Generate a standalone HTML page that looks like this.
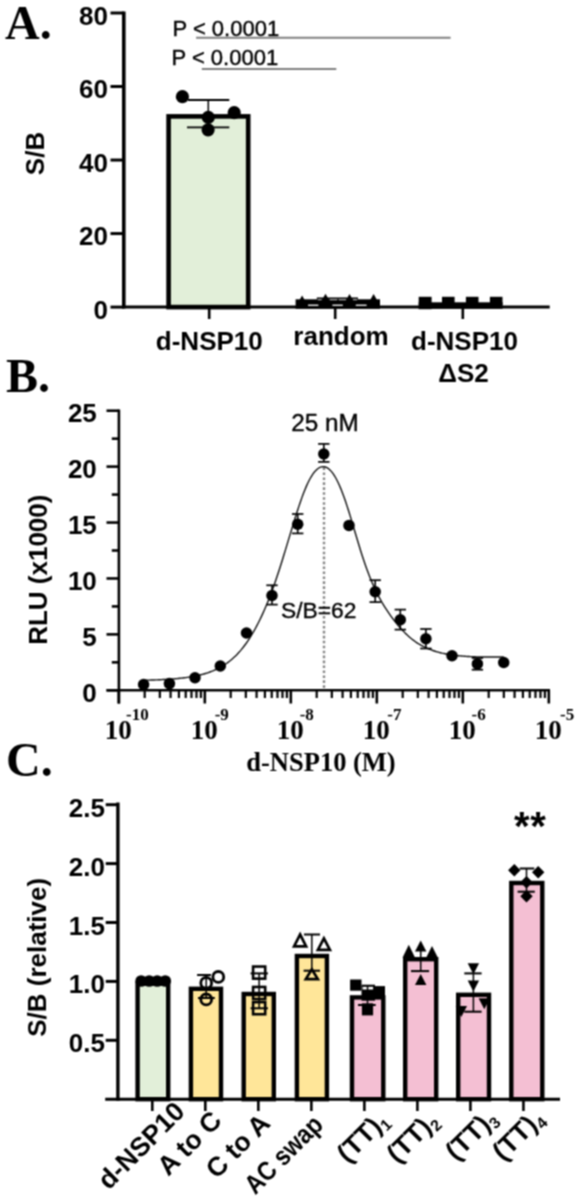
<!DOCTYPE html>
<html><head><meta charset="utf-8"><title>figure</title>
<style>html,body{margin:0;padding:0;background:#fff;overflow:hidden;}svg{display:block;}</style>
</head><body>
<svg width="578" height="1199" viewBox="0 0 578 1199">
<defs><filter id="soft" x="0" y="0" width="578" height="1199" filterUnits="userSpaceOnUse" color-interpolation-filters="sRGB"><feConvolveMatrix order="3" kernelMatrix="1 2 1 2 4 2 1 2 1" divisor="16" edgeMode="duplicate"/></filter></defs>
<g filter="url(#soft)">
<rect width="578" height="1199" fill="#fff"/>
<text x="5.00" y="39.00" font-family='"Liberation Serif", serif' font-size="48" font-weight="bold" text-anchor="start" fill="#000" >A.</text>
<line x1="123.80" y1="11.40" x2="123.80" y2="308.60" stroke="#000" stroke-width="3.6" />
<line x1="110.50" y1="13.00" x2="123.80" y2="13.00" stroke="#000" stroke-width="3" />
<text x="108.00" y="24.60" font-family='"Liberation Sans", sans-serif' font-size="26" font-weight="bold" text-anchor="end" fill="#000" >80</text>
<line x1="110.50" y1="86.52" x2="123.80" y2="86.52" stroke="#000" stroke-width="3" />
<text x="108.00" y="98.12" font-family='"Liberation Sans", sans-serif' font-size="26" font-weight="bold" text-anchor="end" fill="#000" >60</text>
<line x1="110.50" y1="160.05" x2="123.80" y2="160.05" stroke="#000" stroke-width="3" />
<text x="108.00" y="171.65" font-family='"Liberation Sans", sans-serif' font-size="26" font-weight="bold" text-anchor="end" fill="#000" >40</text>
<line x1="110.50" y1="233.57" x2="123.80" y2="233.57" stroke="#000" stroke-width="3" />
<text x="108.00" y="245.17" font-family='"Liberation Sans", sans-serif' font-size="26" font-weight="bold" text-anchor="end" fill="#000" >20</text>
<line x1="110.50" y1="307.10" x2="123.80" y2="307.10" stroke="#000" stroke-width="3" />
<text x="108.00" y="318.70" font-family='"Liberation Sans", sans-serif' font-size="26" font-weight="bold" text-anchor="end" fill="#000" >0</text>
<line x1="122.00" y1="307.10" x2="549.70" y2="307.10" stroke="#000" stroke-width="3" />
<line x1="209.20" y1="307.00" x2="209.20" y2="319.00" stroke="#000" stroke-width="2.6" />
<line x1="335.20" y1="307.00" x2="335.20" y2="319.00" stroke="#000" stroke-width="2.6" />
<line x1="462.80" y1="307.00" x2="462.80" y2="319.00" stroke="#000" stroke-width="2.6" />
<text x="0.00" y="0.00" font-family='"Liberation Sans", sans-serif' font-size="26" font-weight="bold" text-anchor="middle" fill="#000" transform="translate(43.5,153.5) rotate(-90)">S/B</text>
<text x="172.50" y="36.20" font-family='"Liberation Sans", sans-serif' font-size="22" font-weight="normal" text-anchor="start" fill="#000" stroke="#000" stroke-width="0.4">P &lt; 0.0001</text>
<text x="171.50" y="64.50" font-family='"Liberation Sans", sans-serif' font-size="22" font-weight="normal" text-anchor="start" fill="#000" stroke="#000" stroke-width="0.4">P &lt; 0.0001</text>
<line x1="196.10" y1="37.80" x2="450.60" y2="37.80" stroke="#7f7f7f" stroke-width="2" />
<line x1="201.80" y1="69.00" x2="336.30" y2="69.00" stroke="#7f7f7f" stroke-width="2" />
<rect x="168.60" y="116.40" width="79.60" height="190.70" fill="#e2efd9" stroke="#000" stroke-width="4.6"/>
<line x1="208.30" y1="100.00" x2="208.30" y2="127.30" stroke="#000" stroke-width="1.5" />
<line x1="188.00" y1="100.00" x2="229.30" y2="100.00" stroke="#000" stroke-width="1.8" />
<line x1="187.00" y1="127.30" x2="229.30" y2="127.30" stroke="#000" stroke-width="1.8" />
<circle cx="182.40" cy="96.70" r="6.6" fill="#000" stroke="none" stroke-width="0"/>
<circle cx="234.20" cy="112.70" r="6.6" fill="#000" stroke="none" stroke-width="0"/>
<circle cx="208.30" cy="117.30" r="6.6" fill="#000" stroke="none" stroke-width="0"/>
<circle cx="208.10" cy="129.80" r="6.6" fill="#000" stroke="none" stroke-width="0"/>
<rect x="295.6" y="299.3" width="84.4" height="9.5" fill="#000"/>
<rect x="308" y="304.6" width="10.4" height="1.3" fill="#fff"/>
<rect x="332.4" y="304.6" width="10.4" height="1.3" fill="#fff"/>
<rect x="355.7" y="304.6" width="10.9" height="1.3" fill="#fff"/>
<line x1="316.80" y1="298.30" x2="358.00" y2="298.30" stroke="#000" stroke-width="1.6" />
<rect x="318" y="299.3" width="3.5" height="0.9" fill="#fff" opacity="0.8"/>
<rect x="330" y="299.3" width="7.0" height="0.9" fill="#fff" opacity="0.8"/>
<rect x="339" y="299.3" width="7.0" height="0.9" fill="#fff" opacity="0.8"/>
<rect x="353" y="299.3" width="4.0" height="0.9" fill="#fff" opacity="0.8"/>
<polygon points="302.10,295.60 308.35,306.60 295.85,306.60" fill="#000" stroke="none" stroke-width="0" stroke-linejoin="miter"/>
<polygon points="325.50,293.70 331.75,304.70 319.25,304.70" fill="#000" stroke="none" stroke-width="0" stroke-linejoin="miter"/>
<polygon points="349.50,294.00 355.75,305.00 343.25,305.00" fill="#000" stroke="none" stroke-width="0" stroke-linejoin="miter"/>
<polygon points="373.60,294.00 379.85,305.00 367.35,305.00" fill="#000" stroke="none" stroke-width="0" stroke-linejoin="miter"/>
<rect x="418.7" y="302.3" width="83.9" height="6.5" fill="#000"/>
<rect x="418.7" y="296.8" width="12.9" height="12.4" fill="#000"/>
<rect x="442.00" y="296.8" width="12.6" height="8" fill="#000"/>
<rect x="465.90" y="296.8" width="12.6" height="8" fill="#000"/>
<rect x="489.90" y="296.8" width="12.6" height="8" fill="#000"/>
<text x="209.30" y="349.50" font-family='"Liberation Sans", sans-serif' font-size="26" font-weight="bold" text-anchor="middle" fill="#000" >d-NSP10</text>
<text x="341.00" y="344.80" font-family='"Liberation Sans", sans-serif' font-size="26" font-weight="bold" text-anchor="middle" fill="#000" >random</text>
<text x="464.50" y="350.30" font-family='"Liberation Sans", sans-serif' font-size="26" font-weight="bold" text-anchor="middle" fill="#000" >d-NSP10</text>
<text x="463.60" y="381.80" font-family='"Liberation Sans", sans-serif' font-size="26" font-weight="bold" text-anchor="middle" fill="#000" >ΔS2</text>
<text x="6.00" y="391.90" font-family='"Liberation Serif", serif' font-size="48" font-weight="bold" text-anchor="start" fill="#000" >B.</text>
<line x1="118.90" y1="409.50" x2="118.90" y2="703.50" stroke="#000" stroke-width="2.6" />
<line x1="106.50" y1="690.30" x2="118.90" y2="690.30" stroke="#000" stroke-width="2.6" />
<text x="96.80" y="701.90" font-family='"Liberation Sans", sans-serif' font-size="26" font-weight="bold" text-anchor="end" fill="#000" >0</text>
<line x1="106.50" y1="634.38" x2="118.90" y2="634.38" stroke="#000" stroke-width="2.6" />
<text x="96.80" y="645.98" font-family='"Liberation Sans", sans-serif' font-size="26" font-weight="bold" text-anchor="end" fill="#000" >5</text>
<line x1="106.50" y1="578.46" x2="118.90" y2="578.46" stroke="#000" stroke-width="2.6" />
<text x="96.80" y="590.06" font-family='"Liberation Sans", sans-serif' font-size="26" font-weight="bold" text-anchor="end" fill="#000" >10</text>
<line x1="106.50" y1="522.54" x2="118.90" y2="522.54" stroke="#000" stroke-width="2.6" />
<text x="96.80" y="534.14" font-family='"Liberation Sans", sans-serif' font-size="26" font-weight="bold" text-anchor="end" fill="#000" >15</text>
<line x1="106.50" y1="466.62" x2="118.90" y2="466.62" stroke="#000" stroke-width="2.6" />
<text x="96.80" y="478.22" font-family='"Liberation Sans", sans-serif' font-size="26" font-weight="bold" text-anchor="end" fill="#000" >20</text>
<line x1="106.50" y1="410.70" x2="118.90" y2="410.70" stroke="#000" stroke-width="2.6" />
<text x="96.80" y="422.30" font-family='"Liberation Sans", sans-serif' font-size="26" font-weight="bold" text-anchor="end" fill="#000" >25</text>
<line x1="111.80" y1="662.34" x2="118.90" y2="662.34" stroke="#000" stroke-width="2.6" />
<line x1="111.80" y1="606.42" x2="118.90" y2="606.42" stroke="#000" stroke-width="2.6" />
<line x1="111.80" y1="550.50" x2="118.90" y2="550.50" stroke="#000" stroke-width="2.6" />
<line x1="111.80" y1="494.58" x2="118.90" y2="494.58" stroke="#000" stroke-width="2.6" />
<line x1="111.80" y1="438.66" x2="118.90" y2="438.66" stroke="#000" stroke-width="2.6" />
<line x1="106.50" y1="690.30" x2="550.00" y2="690.30" stroke="#000" stroke-width="2.6" />
<line x1="118.80" y1="690.30" x2="118.80" y2="703.50" stroke="#000" stroke-width="2.6" />
<line x1="144.69" y1="690.30" x2="144.69" y2="698.00" stroke="#000" stroke-width="2.2" />
<line x1="159.83" y1="690.30" x2="159.83" y2="698.00" stroke="#000" stroke-width="2.2" />
<line x1="170.58" y1="690.30" x2="170.58" y2="698.00" stroke="#000" stroke-width="2.2" />
<line x1="178.91" y1="690.30" x2="178.91" y2="698.00" stroke="#000" stroke-width="2.2" />
<line x1="185.72" y1="690.30" x2="185.72" y2="698.00" stroke="#000" stroke-width="2.2" />
<line x1="191.48" y1="690.30" x2="191.48" y2="698.00" stroke="#000" stroke-width="2.2" />
<line x1="196.47" y1="690.30" x2="196.47" y2="698.00" stroke="#000" stroke-width="2.2" />
<line x1="200.86" y1="690.30" x2="200.86" y2="698.00" stroke="#000" stroke-width="2.2" />
<line x1="204.80" y1="690.30" x2="204.80" y2="703.50" stroke="#000" stroke-width="2.6" />
<line x1="230.69" y1="690.30" x2="230.69" y2="698.00" stroke="#000" stroke-width="2.2" />
<line x1="245.83" y1="690.30" x2="245.83" y2="698.00" stroke="#000" stroke-width="2.2" />
<line x1="256.58" y1="690.30" x2="256.58" y2="698.00" stroke="#000" stroke-width="2.2" />
<line x1="264.91" y1="690.30" x2="264.91" y2="698.00" stroke="#000" stroke-width="2.2" />
<line x1="271.72" y1="690.30" x2="271.72" y2="698.00" stroke="#000" stroke-width="2.2" />
<line x1="277.48" y1="690.30" x2="277.48" y2="698.00" stroke="#000" stroke-width="2.2" />
<line x1="282.47" y1="690.30" x2="282.47" y2="698.00" stroke="#000" stroke-width="2.2" />
<line x1="286.86" y1="690.30" x2="286.86" y2="698.00" stroke="#000" stroke-width="2.2" />
<line x1="290.80" y1="690.30" x2="290.80" y2="703.50" stroke="#000" stroke-width="2.6" />
<line x1="316.69" y1="690.30" x2="316.69" y2="698.00" stroke="#000" stroke-width="2.2" />
<line x1="331.83" y1="690.30" x2="331.83" y2="698.00" stroke="#000" stroke-width="2.2" />
<line x1="342.58" y1="690.30" x2="342.58" y2="698.00" stroke="#000" stroke-width="2.2" />
<line x1="350.91" y1="690.30" x2="350.91" y2="698.00" stroke="#000" stroke-width="2.2" />
<line x1="357.72" y1="690.30" x2="357.72" y2="698.00" stroke="#000" stroke-width="2.2" />
<line x1="363.48" y1="690.30" x2="363.48" y2="698.00" stroke="#000" stroke-width="2.2" />
<line x1="368.47" y1="690.30" x2="368.47" y2="698.00" stroke="#000" stroke-width="2.2" />
<line x1="372.86" y1="690.30" x2="372.86" y2="698.00" stroke="#000" stroke-width="2.2" />
<line x1="376.80" y1="690.30" x2="376.80" y2="703.50" stroke="#000" stroke-width="2.6" />
<line x1="402.69" y1="690.30" x2="402.69" y2="698.00" stroke="#000" stroke-width="2.2" />
<line x1="417.83" y1="690.30" x2="417.83" y2="698.00" stroke="#000" stroke-width="2.2" />
<line x1="428.58" y1="690.30" x2="428.58" y2="698.00" stroke="#000" stroke-width="2.2" />
<line x1="436.91" y1="690.30" x2="436.91" y2="698.00" stroke="#000" stroke-width="2.2" />
<line x1="443.72" y1="690.30" x2="443.72" y2="698.00" stroke="#000" stroke-width="2.2" />
<line x1="449.48" y1="690.30" x2="449.48" y2="698.00" stroke="#000" stroke-width="2.2" />
<line x1="454.47" y1="690.30" x2="454.47" y2="698.00" stroke="#000" stroke-width="2.2" />
<line x1="458.86" y1="690.30" x2="458.86" y2="698.00" stroke="#000" stroke-width="2.2" />
<line x1="462.80" y1="690.30" x2="462.80" y2="703.50" stroke="#000" stroke-width="2.6" />
<line x1="488.69" y1="690.30" x2="488.69" y2="698.00" stroke="#000" stroke-width="2.2" />
<line x1="503.83" y1="690.30" x2="503.83" y2="698.00" stroke="#000" stroke-width="2.2" />
<line x1="514.58" y1="690.30" x2="514.58" y2="698.00" stroke="#000" stroke-width="2.2" />
<line x1="522.91" y1="690.30" x2="522.91" y2="698.00" stroke="#000" stroke-width="2.2" />
<line x1="529.72" y1="690.30" x2="529.72" y2="698.00" stroke="#000" stroke-width="2.2" />
<line x1="535.48" y1="690.30" x2="535.48" y2="698.00" stroke="#000" stroke-width="2.2" />
<line x1="540.47" y1="690.30" x2="540.47" y2="698.00" stroke="#000" stroke-width="2.2" />
<line x1="544.86" y1="690.30" x2="544.86" y2="698.00" stroke="#000" stroke-width="2.2" />
<line x1="548.80" y1="690.30" x2="548.80" y2="703.50" stroke="#000" stroke-width="2.6" />
<text x="118.20" y="739.30" font-family='"Liberation Serif", serif' font-size="27" font-weight="bold" text-anchor="middle" fill="#000" >10</text>
<text x="126.00" y="720.30" font-family='"Liberation Serif", serif' font-size="17" font-weight="bold" text-anchor="start" fill="#000" >-10</text>
<text x="204.20" y="739.30" font-family='"Liberation Serif", serif' font-size="27" font-weight="bold" text-anchor="middle" fill="#000" >10</text>
<text x="214.70" y="720.30" font-family='"Liberation Serif", serif' font-size="17" font-weight="bold" text-anchor="start" fill="#000" >-9</text>
<text x="290.20" y="739.30" font-family='"Liberation Serif", serif' font-size="27" font-weight="bold" text-anchor="middle" fill="#000" >10</text>
<text x="299.70" y="720.30" font-family='"Liberation Serif", serif' font-size="17" font-weight="bold" text-anchor="start" fill="#000" >-8</text>
<text x="376.20" y="739.30" font-family='"Liberation Serif", serif' font-size="27" font-weight="bold" text-anchor="middle" fill="#000" >10</text>
<text x="387.30" y="720.30" font-family='"Liberation Serif", serif' font-size="17" font-weight="bold" text-anchor="start" fill="#000" >-7</text>
<text x="462.20" y="739.30" font-family='"Liberation Serif", serif' font-size="27" font-weight="bold" text-anchor="middle" fill="#000" >10</text>
<text x="471.50" y="720.30" font-family='"Liberation Serif", serif' font-size="17" font-weight="bold" text-anchor="start" fill="#000" >-6</text>
<text x="548.20" y="739.30" font-family='"Liberation Serif", serif' font-size="27" font-weight="bold" text-anchor="middle" fill="#000" >10</text>
<text x="560.00" y="720.30" font-family='"Liberation Serif", serif' font-size="17" font-weight="bold" text-anchor="start" fill="#000" >-5</text>
<text x="321.00" y="771.20" font-family='"Liberation Serif", serif' font-size="26.5" font-weight="bold" text-anchor="middle" fill="#000" >d-NSP10 (M)</text>
<text x="0.00" y="0.00" font-family='"Liberation Sans", sans-serif' font-size="26" font-weight="bold" text-anchor="middle" fill="#000" transform="translate(46.8,569.7) rotate(-90)">RLU (x1000)</text>
<line x1="324.00" y1="467.50" x2="324.00" y2="688.80" stroke="#858585" stroke-width="2.4" stroke-dasharray="2.6,2.35"/>
<path d="M143.60,680.29 L145.11,680.25 L146.61,680.21 L148.12,680.17 L149.63,680.12 L151.13,680.07 L152.64,680.02 L154.15,679.96 L155.65,679.90 L157.16,679.84 L158.67,679.78 L160.17,679.71 L161.68,679.63 L163.19,679.56 L164.69,679.47 L166.20,679.38 L167.71,679.29 L169.21,679.19 L170.72,679.09 L172.23,678.97 L173.73,678.85 L175.24,678.73 L176.75,678.59 L178.25,678.45 L179.76,678.29 L181.27,678.13 L182.77,677.96 L184.28,677.77 L185.79,677.58 L187.29,677.37 L188.80,677.15 L190.31,676.91 L191.81,676.66 L193.32,676.39 L194.83,676.11 L196.33,675.80 L197.84,675.48 L199.35,675.14 L200.85,674.77 L202.36,674.38 L203.87,673.97 L205.37,673.53 L206.88,673.06 L208.39,672.56 L209.89,672.03 L211.40,671.47 L212.91,670.87 L214.41,670.23 L215.92,669.55 L217.43,668.83 L218.93,668.06 L220.44,667.25 L221.95,666.38 L223.45,665.47 L224.96,664.50 L226.47,663.47 L227.97,662.38 L229.48,661.23 L230.99,660.01 L232.49,658.72 L234.00,657.36 L235.51,655.92 L237.02,654.40 L238.52,652.80 L240.03,651.12 L241.54,649.35 L243.04,647.49 L244.55,645.53 L246.06,643.48 L247.56,641.33 L249.07,639.07 L250.58,636.72 L252.08,634.25 L253.59,631.68 L255.10,629.00 L256.60,626.20 L258.11,623.29 L259.62,620.27 L261.12,617.13 L262.63,613.88 L264.14,610.51 L265.64,607.02 L267.15,603.41 L268.66,599.67 L270.16,595.81 L271.67,591.81 L273.18,587.68 L274.68,583.43 L276.19,579.05 L277.70,574.54 L279.20,569.93 L280.71,565.22 L282.22,560.43 L283.72,555.56 L285.23,550.63 L286.74,545.67 L288.24,540.67 L289.75,535.67 L291.26,530.68 L292.76,525.72 L294.27,520.81 L295.78,515.98 L297.28,511.24 L298.79,506.63 L300.30,502.18 L301.80,497.89 L303.31,493.81 L304.82,489.97 L306.32,486.38 L307.83,483.06 L309.34,480.02 L310.84,477.28 L312.35,474.84 L313.86,472.71 L315.36,470.90 L316.87,469.41 L318.38,468.25 L319.88,467.42 L321.39,466.90 L322.90,466.70 L324.40,466.80 L325.91,467.21 L327.42,467.95 L328.92,469.01 L330.43,470.40 L331.94,472.11 L333.44,474.16 L334.95,476.53 L336.46,479.22 L337.96,482.22 L339.47,485.52 L340.98,489.11 L342.48,492.96 L343.99,497.05 L345.50,501.35 L347.00,505.86 L348.51,510.55 L350.02,515.39 L351.52,520.34 L353.03,525.37 L354.54,530.44 L356.04,535.51 L357.55,540.56 L359.06,545.54 L360.56,550.42 L362.07,555.19 L363.58,559.80 L365.08,564.23 L366.59,568.49 L368.10,572.57 L369.60,576.47 L371.11,580.19 L372.62,583.75 L374.12,587.14 L375.63,590.37 L377.14,593.45 L378.64,596.38 L380.15,599.18 L381.66,601.85 L383.16,604.40 L384.67,606.85 L386.18,609.20 L387.68,611.46 L389.19,613.65 L390.70,615.78 L392.20,617.84 L393.71,619.85 L395.22,621.79 L396.72,623.67 L398.23,625.49 L399.74,627.24 L401.24,628.94 L402.75,630.57 L404.26,632.13 L405.76,633.63 L407.27,635.07 L408.78,636.44 L410.28,637.75 L411.79,638.99 L413.30,640.16 L414.81,641.26 L416.31,642.31 L417.82,643.30 L419.33,644.23 L420.83,645.10 L422.34,645.93 L423.85,646.71 L425.35,647.44 L426.86,648.13 L428.37,648.78 L429.87,649.39 L431.38,649.96 L432.89,650.50 L434.39,651.00 L435.90,651.48 L437.41,651.92 L438.91,652.33 L440.42,652.72 L441.93,653.09 L443.43,653.42 L444.94,653.74 L446.45,654.03 L447.95,654.31 L449.46,654.56 L450.97,654.80 L452.47,655.02 L453.98,655.22 L455.49,655.41 L456.99,655.58 L458.50,655.74 L460.01,655.89 L461.51,656.02 L463.02,656.14 L464.53,656.25 L466.03,656.35 L467.54,656.45 L469.05,656.53 L470.55,656.60 L472.06,656.67 L473.57,656.73 L475.07,656.78 L476.58,656.83 L478.09,656.87 L479.59,656.90 L481.10,656.93 L482.61,656.96 L484.11,656.98 L485.62,657.00 L487.13,657.01 L488.63,657.03 L490.14,657.03 L491.65,657.04 L493.15,657.05 L494.66,657.05 L496.17,657.05 L497.67,657.05 L499.18,657.05 L500.69,657.05 L502.19,657.05 L503.70,657.05" fill="none" stroke="#111" stroke-width="1.4"/>
<circle cx="143.60" cy="684.50" r="5.75" fill="#000" stroke="none" stroke-width="0"/>
<circle cx="169.40" cy="683.60" r="5.75" fill="#000" stroke="none" stroke-width="0"/>
<circle cx="195.00" cy="677.70" r="5.75" fill="#000" stroke="none" stroke-width="0"/>
<circle cx="220.30" cy="666.00" r="5.75" fill="#000" stroke="none" stroke-width="0"/>
<circle cx="246.50" cy="633.00" r="5.75" fill="#000" stroke="none" stroke-width="0"/>
<line x1="272.00" y1="585.30" x2="272.00" y2="604.60" stroke="#000" stroke-width="1.6" />
<line x1="266.30" y1="585.30" x2="277.70" y2="585.30" stroke="#000" stroke-width="1.7" />
<line x1="266.30" y1="604.60" x2="277.70" y2="604.60" stroke="#000" stroke-width="1.7" />
<circle cx="272.00" cy="595.50" r="5.75" fill="#000" stroke="none" stroke-width="0"/>
<line x1="297.70" y1="514.00" x2="297.70" y2="533.40" stroke="#000" stroke-width="1.6" />
<line x1="292.00" y1="514.00" x2="303.40" y2="514.00" stroke="#000" stroke-width="1.7" />
<line x1="292.00" y1="533.40" x2="303.40" y2="533.40" stroke="#000" stroke-width="1.7" />
<circle cx="297.70" cy="524.20" r="5.75" fill="#000" stroke="none" stroke-width="0"/>
<line x1="323.80" y1="443.90" x2="323.80" y2="461.90" stroke="#000" stroke-width="1.6" />
<line x1="318.10" y1="443.90" x2="329.50" y2="443.90" stroke="#000" stroke-width="1.7" />
<line x1="318.10" y1="461.90" x2="329.50" y2="461.90" stroke="#000" stroke-width="1.7" />
<circle cx="323.80" cy="454.00" r="5.75" fill="#000" stroke="none" stroke-width="0"/>
<circle cx="349.00" cy="525.40" r="5.75" fill="#000" stroke="none" stroke-width="0"/>
<line x1="375.20" y1="580.20" x2="375.20" y2="602.10" stroke="#000" stroke-width="1.6" />
<line x1="369.50" y1="580.20" x2="380.90" y2="580.20" stroke="#000" stroke-width="1.7" />
<line x1="369.50" y1="602.10" x2="380.90" y2="602.10" stroke="#000" stroke-width="1.7" />
<circle cx="375.20" cy="591.70" r="5.75" fill="#000" stroke="none" stroke-width="0"/>
<line x1="400.30" y1="609.60" x2="400.30" y2="629.60" stroke="#000" stroke-width="1.6" />
<line x1="394.60" y1="609.60" x2="406.00" y2="609.60" stroke="#000" stroke-width="1.7" />
<line x1="394.60" y1="629.60" x2="406.00" y2="629.60" stroke="#000" stroke-width="1.7" />
<circle cx="400.30" cy="619.80" r="5.75" fill="#000" stroke="none" stroke-width="0"/>
<line x1="425.90" y1="629.00" x2="425.90" y2="648.50" stroke="#000" stroke-width="1.6" />
<line x1="420.20" y1="629.00" x2="431.60" y2="629.00" stroke="#000" stroke-width="1.7" />
<line x1="420.20" y1="648.50" x2="431.60" y2="648.50" stroke="#000" stroke-width="1.7" />
<circle cx="425.90" cy="638.80" r="5.75" fill="#000" stroke="none" stroke-width="0"/>
<circle cx="452.00" cy="655.70" r="5.75" fill="#000" stroke="none" stroke-width="0"/>
<line x1="477.40" y1="658.00" x2="477.40" y2="669.70" stroke="#000" stroke-width="1.6" />
<line x1="471.70" y1="658.00" x2="483.10" y2="658.00" stroke="#000" stroke-width="1.7" />
<line x1="471.70" y1="669.70" x2="483.10" y2="669.70" stroke="#000" stroke-width="1.7" />
<circle cx="477.40" cy="663.90" r="5.75" fill="#000" stroke="none" stroke-width="0"/>
<circle cx="503.70" cy="662.50" r="5.75" fill="#000" stroke="none" stroke-width="0"/>
<text x="281.00" y="618.00" font-family='"Liberation Sans", sans-serif' font-size="22.5" font-weight="normal" text-anchor="start" fill="#000" textLength="75.5" lengthAdjust="spacingAndGlyphs" stroke="#000" stroke-width="0.35">S/B=62</text>
<text x="291.20" y="430.60" font-family='"Liberation Sans", sans-serif' font-size="23.5" font-weight="normal" text-anchor="start" fill="#000" textLength="67.5" lengthAdjust="spacingAndGlyphs" stroke="#000" stroke-width="0.35">25 nM</text>
<text x="6.00" y="776.30" font-family='"Liberation Serif", serif' font-size="48" font-weight="bold" text-anchor="start" fill="#000" >C.</text>
<line x1="117.90" y1="802.60" x2="117.90" y2="1100.80" stroke="#000" stroke-width="3.4" />
<line x1="105.70" y1="804.70" x2="117.90" y2="804.70" stroke="#000" stroke-width="3" />
<text x="105.00" y="816.70" font-family='"Liberation Sans", sans-serif' font-size="26" font-weight="bold" text-anchor="end" fill="#000" >2.5</text>
<line x1="105.70" y1="863.60" x2="117.90" y2="863.60" stroke="#000" stroke-width="3" />
<text x="105.00" y="875.60" font-family='"Liberation Sans", sans-serif' font-size="26" font-weight="bold" text-anchor="end" fill="#000" >2.0</text>
<line x1="105.70" y1="922.50" x2="117.90" y2="922.50" stroke="#000" stroke-width="3" />
<text x="105.00" y="934.50" font-family='"Liberation Sans", sans-serif' font-size="26" font-weight="bold" text-anchor="end" fill="#000" >1.5</text>
<line x1="105.70" y1="981.40" x2="117.90" y2="981.40" stroke="#000" stroke-width="3" />
<text x="105.00" y="993.40" font-family='"Liberation Sans", sans-serif' font-size="26" font-weight="bold" text-anchor="end" fill="#000" >1.0</text>
<line x1="105.70" y1="1040.30" x2="117.90" y2="1040.30" stroke="#000" stroke-width="3" />
<text x="105.00" y="1052.30" font-family='"Liberation Sans", sans-serif' font-size="26" font-weight="bold" text-anchor="end" fill="#000" >0.5</text>
<line x1="105.20" y1="1099.20" x2="560.00" y2="1099.20" stroke="#000" stroke-width="3" />
<line x1="152.30" y1="1099.20" x2="152.30" y2="1111.00" stroke="#000" stroke-width="2.6" />
<line x1="205.32" y1="1099.20" x2="205.32" y2="1111.00" stroke="#000" stroke-width="2.6" />
<line x1="258.34" y1="1099.20" x2="258.34" y2="1111.00" stroke="#000" stroke-width="2.6" />
<line x1="311.36" y1="1099.20" x2="311.36" y2="1111.00" stroke="#000" stroke-width="2.6" />
<line x1="364.38" y1="1099.20" x2="364.38" y2="1111.00" stroke="#000" stroke-width="2.6" />
<line x1="417.40" y1="1099.20" x2="417.40" y2="1111.00" stroke="#000" stroke-width="2.6" />
<line x1="470.42" y1="1099.20" x2="470.42" y2="1111.00" stroke="#000" stroke-width="2.6" />
<line x1="523.44" y1="1099.20" x2="523.44" y2="1111.00" stroke="#000" stroke-width="2.6" />
<rect x="137.60" y="983.50" width="30.60" height="115.70" fill="#e2efd9" stroke="#000" stroke-width="4.4"/>
<rect x="190.90" y="988.80" width="30.10" height="110.40" fill="#ffe699" stroke="#000" stroke-width="4.4"/>
<rect x="243.70" y="994.00" width="30.10" height="105.20" fill="#ffe699" stroke="#000" stroke-width="4.4"/>
<rect x="296.90" y="956.00" width="30.00" height="143.20" fill="#ffe699" stroke="#000" stroke-width="4.4"/>
<rect x="352.00" y="997.40" width="31.30" height="101.80" fill="#f4bfd3" stroke="#000" stroke-width="4.4"/>
<rect x="405.20" y="959.20" width="31.00" height="140.00" fill="#f4bfd3" stroke="#000" stroke-width="4.4"/>
<rect x="458.20" y="994.80" width="30.80" height="104.40" fill="#f4bfd3" stroke="#000" stroke-width="4.4"/>
<rect x="511.30" y="883.00" width="31.00" height="216.20" fill="#f4bfd3" stroke="#000" stroke-width="4.4"/>
<circle cx="141.15" cy="981.00" r="5.85" fill="#000" stroke="none" stroke-width="0"/>
<circle cx="149.20" cy="981.00" r="5.85" fill="#000" stroke="none" stroke-width="0"/>
<circle cx="157.20" cy="981.00" r="5.85" fill="#000" stroke="none" stroke-width="0"/>
<circle cx="165.25" cy="981.00" r="5.85" fill="#000" stroke="none" stroke-width="0"/>
<line x1="206.20" y1="975.00" x2="206.20" y2="998.00" stroke="#000" stroke-width="1.5" />
<line x1="197.10" y1="975.00" x2="211.00" y2="975.00" stroke="#000" stroke-width="2" />
<line x1="198.00" y1="998.00" x2="214.80" y2="998.00" stroke="#000" stroke-width="2" />
<circle cx="206.20" cy="982.90" r="5.4" fill="none" stroke="#000" stroke-width="2.8"/>
<circle cx="218.30" cy="976.90" r="5.4" fill="none" stroke="#000" stroke-width="2.8"/>
<circle cx="206.20" cy="999.40" r="5.4" fill="none" stroke="#000" stroke-width="2.8"/>
<line x1="259.15" y1="973.40" x2="259.15" y2="1008.30" stroke="#000" stroke-width="1.5" />
<line x1="250.60" y1="973.40" x2="267.90" y2="973.40" stroke="#000" stroke-width="2" />
<line x1="250.60" y1="1008.30" x2="267.90" y2="1008.30" stroke="#000" stroke-width="2" />
<rect x="253.10" y="966.55" width="12.1" height="12.1" fill="none" stroke="#000" stroke-width="2.6"/>
<rect x="253.10" y="986.95" width="12.1" height="12.1" fill="none" stroke="#000" stroke-width="2.6"/>
<rect x="253.10" y="1002.15" width="12.1" height="12.1" fill="none" stroke="#000" stroke-width="2.6"/>
<line x1="311.80" y1="934.50" x2="311.80" y2="970.70" stroke="#000" stroke-width="1.5" />
<line x1="304.00" y1="934.50" x2="320.00" y2="934.50" stroke="#000" stroke-width="2" />
<line x1="303.60" y1="970.70" x2="320.00" y2="970.70" stroke="#000" stroke-width="2" />
<polygon points="300.10,934.40 306.10,946.30 294.10,946.30" fill="none" stroke="#000" stroke-width="2.7" stroke-linejoin="miter"/>
<polygon points="323.90,938.30 329.90,949.80 317.90,949.80" fill="none" stroke="#000" stroke-width="2.7" stroke-linejoin="miter"/>
<polygon points="311.80,969.30 317.80,979.10 305.80,979.10" fill="none" stroke="#000" stroke-width="2.7" stroke-linejoin="miter"/>
<line x1="367.50" y1="985.70" x2="367.50" y2="1005.00" stroke="#000" stroke-width="1.5" />
<line x1="358.00" y1="1005.00" x2="375.70" y2="1005.00" stroke="#000" stroke-width="2" />
<rect x="361.5" y="984.7" width="13.5" height="16" fill="#000"/>
<rect x="362.6" y="986.8" width="4.2" height="2.7" fill="#fff"/>
<rect x="368.3" y="986.8" width="4.8" height="2.7" fill="#fff"/>
<rect x="350.1" y="979.5" width="11.4" height="11.2" fill="#000"/>
<rect x="374" y="986.1" width="11.0" height="11.5" fill="#000"/>
<rect x="361.9" y="1003.3" width="11.2" height="12.1" fill="#000"/>
<line x1="420.70" y1="951.00" x2="420.70" y2="971.10" stroke="#000" stroke-width="1.5" />
<line x1="411.00" y1="971.10" x2="429.10" y2="971.10" stroke="#000" stroke-width="2" />
<polygon points="408.80,944.70 415.10,957.70 402.50,957.70" fill="#000" stroke="none" stroke-width="0" stroke-linejoin="miter"/>
<polygon points="420.70,940.40 426.40,951.40 415.00,951.40" fill="#000" stroke="none" stroke-width="0" stroke-linejoin="miter"/>
<polygon points="432.00,946.00 438.00,958.00 426.00,958.00" fill="#000" stroke="none" stroke-width="0" stroke-linejoin="miter"/>
<polygon points="420.70,974.10 426.40,985.10 415.00,985.10" fill="#000" stroke="none" stroke-width="0" stroke-linejoin="miter"/>
<line x1="473.40" y1="973.40" x2="473.40" y2="1011.70" stroke="#000" stroke-width="1.5" />
<line x1="464.30" y1="973.40" x2="481.60" y2="973.40" stroke="#000" stroke-width="2" />
<line x1="464.30" y1="1011.70" x2="481.60" y2="1011.70" stroke="#000" stroke-width="2" />
<polygon points="473.40,974.20 479.10,963.20 467.70,963.20" fill="#000" stroke="none" stroke-width="0" stroke-linejoin="miter"/>
<polygon points="473.40,991.50 479.10,980.50 467.70,980.50" fill="#000" stroke="none" stroke-width="0" stroke-linejoin="miter"/>
<polygon points="461.30,1017.00 467.00,1006.00 455.60,1006.00" fill="#000" stroke="none" stroke-width="0" stroke-linejoin="miter"/>
<polygon points="484.30,1009.30 490.00,998.30 478.60,998.30" fill="#000" stroke="none" stroke-width="0" stroke-linejoin="miter"/>
<line x1="526.50" y1="868.50" x2="526.50" y2="891.70" stroke="#000" stroke-width="1.5" />
<line x1="519.70" y1="868.50" x2="534.30" y2="868.50" stroke="#000" stroke-width="2" />
<line x1="517.60" y1="891.70" x2="534.80" y2="891.70" stroke="#000" stroke-width="2" />
<polygon points="514.30,864.00 520.50,870.20 514.30,876.40 508.10,870.20" fill="#000" stroke="none" stroke-width="0" stroke-linejoin="miter"/>
<polygon points="538.20,866.10 544.40,872.30 538.20,878.50 532.00,872.30" fill="#000" stroke="none" stroke-width="0" stroke-linejoin="miter"/>
<polygon points="526.50,876.00 532.70,882.20 526.50,888.40 520.30,882.20" fill="#000" stroke="none" stroke-width="0" stroke-linejoin="miter"/>
<polygon points="526.50,890.00 532.70,896.20 526.50,902.40 520.30,896.20" fill="#000" stroke="none" stroke-width="0" stroke-linejoin="miter"/>
<text x="530.30" y="839.50" font-family='"Liberation Sans", sans-serif' font-size="40" font-weight="bold" text-anchor="middle" fill="#000" letter-spacing="0.8">**</text>
<text x="0.00" y="0.00" font-family='"Liberation Sans", sans-serif' font-size="26" font-weight="bold" text-anchor="middle" fill="#000" transform="translate(46,957.3) rotate(-90)">S/B (relative)</text>
<text x="186.30" y="1113.10" font-family='"Liberation Sans", sans-serif' font-size="26.7" font-weight="bold" text-anchor="end" fill="#000"  transform="rotate(-45 186.30 1113.10)">d-NSP10</text>
<text x="223.15" y="1122.10" font-family='"Liberation Sans", sans-serif' font-size="26.7" font-weight="bold" text-anchor="end" fill="#000"  transform="rotate(-45 223.15 1122.10)">A to C</text>
<text x="271.55" y="1124.85" font-family='"Liberation Sans", sans-serif' font-size="26.7" font-weight="bold" text-anchor="end" fill="#000"  transform="rotate(-45 271.55 1124.85)">C to A</text>
<text x="324.45" y="1126.15" font-family='"Liberation Sans", sans-serif' font-size="26.7" font-weight="bold" text-anchor="end" fill="#000" textLength="98" lengthAdjust="spacingAndGlyphs" transform="rotate(-45 324.45 1126.15)">AC swap</text>
<text x="389.65" y="1121.95" font-family='"Liberation Sans", sans-serif' font-size="26.7" font-weight="bold" text-anchor="end" fill="#000"  transform="rotate(-45 389.65 1121.95)">(TT)<tspan font-size="16" dy="5">1</tspan></text>
<text x="439.45" y="1122.30" font-family='"Liberation Sans", sans-serif' font-size="26.7" font-weight="bold" text-anchor="end" fill="#000"  transform="rotate(-45 439.45 1122.30)">(TT)<tspan font-size="16" dy="5">2</tspan></text>
<text x="498.25" y="1119.90" font-family='"Liberation Sans", sans-serif' font-size="26.7" font-weight="bold" text-anchor="end" fill="#000"  transform="rotate(-45 498.25 1119.90)">(TT)<tspan font-size="16" dy="5">3</tspan></text>
<text x="545.15" y="1120.05" font-family='"Liberation Sans", sans-serif' font-size="26.7" font-weight="bold" text-anchor="end" fill="#000"  transform="rotate(-45 545.15 1120.05)">(TT)<tspan font-size="16" dy="5">4</tspan></text>
</g>
</svg>
</body></html>
